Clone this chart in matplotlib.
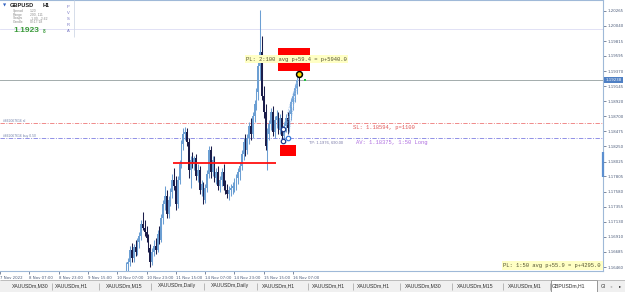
import numpy as np
import matplotlib.pyplot as plt
from matplotlib.patches import Rectangle

# hourly bars, index counted from 7 Nov 2022 00:00 (weekend hours skipped)
first_bar = 84
first_open = 1.1645
closes = [1.1651, 1.1653, 1.1671, 1.1659, 1.1676, 1.1668, 1.1683, 1.1692, 1.1710, 1.1704,
          1.1698, 1.1689, 1.1674, 1.1653, 1.1668, 1.1677, 1.1671, 1.1695, 1.1686, 1.1719,
          1.1740, 1.1751, 1.1725, 1.1746, 1.1757, 1.1775, 1.1766, 1.1740, 1.1775, 1.1799,
          1.1829, 1.1843, 1.1846, 1.1832, 1.1790, 1.1805, 1.1799, 1.1808, 1.1781, 1.1790,
          1.1760, 1.1769, 1.1746, 1.1763, 1.1784, 1.1820, 1.1787, 1.1805, 1.1778, 1.1787,
          1.1766, 1.1775, 1.1787, 1.1766, 1.1760, 1.1754, 1.1760, 1.1763, 1.1766, 1.1772,
          1.1778, 1.1787, 1.1796, 1.1814, 1.1832, 1.1820, 1.1838, 1.1855, 1.1843, 1.1870,
          1.1888, 1.1906, 1.1944, 1.1965, 1.1900, 1.1876, 1.1826, 1.1843, 1.1858, 1.1876,
          1.1846, 1.1864, 1.1870, 1.1849, 1.1867, 1.1841, 1.1855, 1.1867, 1.1852, 1.1873,
          1.1891, 1.1900, 1.1912, 1.1924, 1.1923]
highs = [1.1653, 1.1659, 1.1677, 1.1682, 1.1680, 1.1686, 1.1689, 1.1698, 1.1716, 1.1728,
         1.1716, 1.1707, 1.1695, 1.1680, 1.1674, 1.1686, 1.1689, 1.1701, 1.1707, 1.1725,
         1.1746, 1.1766, 1.1760, 1.1751, 1.1763, 1.1784, 1.1793, 1.1781, 1.1781, 1.1805,
         1.1835, 1.1852, 1.1854, 1.1852, 1.1838, 1.1811, 1.1817, 1.1811, 1.1814, 1.1799,
         1.1796, 1.1775, 1.1772, 1.1769, 1.1790, 1.1826, 1.1826, 1.1811, 1.1811, 1.1793,
         1.1796, 1.1781, 1.1793, 1.1799, 1.1775, 1.1769, 1.1766, 1.1769, 1.1772, 1.1778,
         1.1784, 1.1793, 1.1802, 1.1820, 1.1838, 1.1843, 1.1843, 1.1861, 1.1867, 1.1876,
         1.1894, 1.1912, 1.1953, 1.2028, 1.1989, 1.1915, 1.1888, 1.1852, 1.1864, 1.1882,
         1.1885, 1.1870, 1.1879, 1.1876, 1.1873, 1.1879, 1.1861, 1.1873, 1.1876, 1.1879,
         1.1897, 1.1906, 1.1918, 1.1930, 1.1933]
lows = [1.1634, 1.1639, 1.1648, 1.1653, 1.1653, 1.1662, 1.1664, 1.1674, 1.1686, 1.1701,
        1.1692, 1.1683, 1.1668, 1.1646, 1.1649, 1.1662, 1.1665, 1.1668, 1.1680, 1.1683,
        1.1710, 1.1731, 1.1719, 1.1719, 1.1737, 1.1748, 1.1760, 1.1731, 1.1734, 1.1769,
        1.1793, 1.1820, 1.1835, 1.1826, 1.1778, 1.1763, 1.1793, 1.1790, 1.1775, 1.1772,
        1.1754, 1.1751, 1.1740, 1.1741, 1.1757, 1.1778, 1.1778, 1.1781, 1.1772, 1.1769,
        1.1760, 1.1757, 1.1766, 1.1760, 1.1754, 1.1748, 1.1746, 1.1751, 1.1754, 1.1757,
        1.1760, 1.1769, 1.1775, 1.1790, 1.1805, 1.1811, 1.1814, 1.1829, 1.1835, 1.1838,
        1.1861, 1.1879, 1.1894, 1.1924, 1.1894, 1.1867, 1.1820, 1.1790, 1.1835, 1.1849,
        1.1841, 1.1838, 1.1852, 1.1843, 1.1843, 1.1835, 1.1832, 1.1846, 1.1843, 1.1846,
        1.1864, 1.1879, 1.1891, 1.1903, 1.1915]

tick_bars = [15, 31, 47, 63, 79, 95, 111, 127, 143, 159, 175]
tick_labels = ["7 Nov 2022", "8 Nov 07:00", "8 Nov 23:00", "9 Nov 15:00", "10 Nov 07:00",
               "10 Nov 23:00", "11 Nov 15:00", "14 Nov 07:00", "14 Nov 23:00",
               "15 Nov 15:00", "16 Nov 07:00"]
price_ticks = [1.20265, 1.20040, 1.19815, 1.19595, 1.19370, 1.19145, 1.18920, 1.18700,
               1.18475, 1.18250, 1.18025, 1.17805, 1.17580, 1.17355, 1.17130, 1.16910,
               1.16685, 1.16460]

bid = 1.19238
round_level = 1.2000
sl_level = 1.18594
entry_level = 1.18375
support_level = 1.1800
support_bars = (109.5, 165.5)

# red zones: bar from, bar to, price low, price high
zone_top = (166.7, 184.2, 1.19370, 1.19711)
zone_bottom = (167.8, 176.6, 1.18108, 1.18271)

entry_bars = [169.5, 169.5, 172.2]
entry_prices = [1.1851, 1.1833, 1.1837]
entry_colors = ["#1a3a8a", "#1a3a8a", "#3a7ad8"]
last_bar, last_mark = 178.2, 1.1933
green_bar, green_mark = 181.5, 1.1924

tab_names = ["XAUUSDm,M30", "XAUUSDm,H1", "XAUUSDm,M15", "XAUUSDm,Daily", "XAUUSDm,Daily",
             "XAUUSDm,H1", "XAUUSDm,H1", "XAUUSDm,H1", "XAUUSDm,M30", "XAUUSDm,M15",
             "XAUUSDm,M1", "GBPUSDm,H1"]
tab_centers = [30, 71, 124, 177, 230, 278, 328, 373, 423, 475, 525, 569]
tab_seps = [52, 99, 151, 204, 257, 308, 353, 400, 452, 503, 550]

px_per_bar = 1.832
frame = "#9fb9d8"
axis_text = "#4a5a78"

fig = plt.figure(figsize=(6.25, 2.92), dpi=100)
ax = fig.add_axes([0, 21 / 292, 603 / 625, 271 / 292])
ax.set_xlim(15, 15 + 603 / px_per_bar)
ax.set_ylim(1.16401, 1.20424)

# candles
opens = [first_open] + closes[:-1]
bars = np.arange(first_bar, first_bar + len(closes))
o = np.array(opens)
c = np.array(closes)
cols = np.where(c >= o, "#6c9fd3", "#1b1d4a")
ax.vlines(bars, lows, highs, colors=cols, linewidth=0.75, zorder=2)
body = np.maximum(np.abs(c - o), 0.00005)
ax.bar(bars, body, bottom=np.minimum(o, c), width=0.9, color=cols, linewidth=0, zorder=2)

# horizontal levels
ax.axhline(round_level, color="#dcdcf4", lw=0.6, zorder=1)
ax.axhline(bid, color="#a3acac", lw=0.7, zorder=1)
ax.axhline(sl_level, color="#f08a8a", lw=0.7, dashes=(4.5, 1.5, 1, 1.5), zorder=1)
ax.axhline(entry_level, color="#9090e6", lw=0.7, dashes=(4.5, 1.5, 1, 1.5), zorder=1)
ax.hlines(support_level, support_bars[0], support_bars[1], color="#ff1010", lw=1.3, zorder=3)

for z in (zone_top, zone_bottom):
    ax.add_patch(Rectangle((z[0], z[2]), z[1] - z[0], z[3] - z[2], fc="#ff0000", ec="none", zorder=3))

# trade markers
for b, p in zip(entry_bars, entry_prices):
    ax.plot([b, last_bar], [p, last_mark], color="#8fb8e8", lw=0.6, ls=(0, (1, 1)), zorder=3)
for b, p, col in zip(entry_bars, entry_prices, entry_colors):
    ax.plot(b, p, "o", ms=3.2, mfc="white", mec=col, mew=0.9, zorder=6)
ax.plot(last_bar, last_mark, "o", ms=4.2, mfc="#ffe000", mec="black", mew=1.1, zorder=6)
ax.plot(green_bar, green_mark, "s", ms=1.6, color="#20c040", mew=0, zorder=6)

# chart labels
mono = "Liberation Mono"
ax.text(149.3, 1.19548, "PL: 2:100 avg p+59.4 = p+5940.0", family=mono, fontsize=4,
        color="#555533", va="center", zorder=7,
        bbox=dict(boxstyle="square,pad=0.25", fc="#ffffc4", ec="none"))
ax.text(207.7, 1.18524, "SL: 1.18594, p=1100", family=mono, fontsize=4, color="#e05a5a",
        va="center", zorder=7)
ax.text(183.7, 1.1831, "TP: 1.1976, 690.00", family="Liberation Sans", fontsize=2.9,
        color="#7a7aa8", va="center", zorder=7)
ax.text(209.3, 1.1831, "AV: 1.18375, 1:50 Long", family=mono, fontsize=4, color="#b070e0",
        va="center", zorder=7)
ax.text(343.0, 1.16483, "PL: 1:50 avg p+55.9 = p+4295.0", family=mono, fontsize=4,
        color="#555533", va="center", ha="right", zorder=7,
        bbox=dict(boxstyle="square,pad=0.3", fc="#ffffc4", ec="none"))

# axes styling
for side in ("top", "bottom", "right"):
    ax.spines[side].set_color(frame)
    ax.spines[side].set_linewidth(0.8)
ax.spines["left"].set_visible(False)
ax.yaxis.tick_right()
ax.set_yticks(price_ticks)
ax.set_yticklabels(["%.5f" % p for p in price_ticks])
ax.tick_params(axis="y", labelsize=2.8, colors=axis_text, length=2, width=0.5, pad=1.5)
ax.set_xticks(tick_bars)
ax.set_xticklabels(tick_labels)
ax.tick_params(axis="x", labelsize=2.8, colors=axis_text, length=2, width=0.5, pad=1.5)
for lab in ax.get_xticklabels():
    lab.set_ha("left")
for t in ax.get_yticklabels() + ax.get_xticklabels():
    t.set_color(axis_text)

yx = ax.get_yaxis_transform()
ax.text(1.004, bid, "%.5f" % bid, transform=yx, fontsize=2.8, color="white", va="center",
        ha="left", clip_on=False, zorder=8,
        bbox=dict(boxstyle="square,pad=0.3", fc="#4f80c4", ec="none"))
ax.plot([1, 1], [1.1780, 1.1817], transform=yx, lw=1.6, color="#5b8fd0", clip_on=False,
        solid_capstyle="butt", zorder=8)

# window furniture in pixel coordinates
ui = fig.add_axes([0, 0, 1, 1])
ui.set_xlim(0, 625)
ui.set_ylim(292, 0)
ui.axis("off")
ui.patch.set_alpha(0)

sans = "Liberation Sans"
ui.text(3, 5.5, "\u25bc", fontsize=3, color="#3060c0", va="center")
ui.text(10, 5.5, "GBPUSD", family=sans, fontsize=4.1, weight="bold", color="#202020", va="center")
ui.text(43, 5.5, "H1", family=sans, fontsize=4.1, weight="bold", color="#202020", va="center")
info_keys = ["Spread", "Range", "Swaps", "Candle"]
info_vals = ["1.20", "200, 111", "-1.00, -2.62", "00:17:18"]
for k, (key, val) in enumerate(zip(info_keys, info_vals)):
    ui.text(13, 11 + 3.7 * k, key, family=sans, fontsize=2.4, color="#8a8a8a", va="center")
    ui.text(30, 11 + 3.7 * k, val, family=sans, fontsize=2.4, color="#8a8a8a", va="center")
ui.text(13, 30.5, "1.1923", family=sans, fontsize=6, weight="bold", color="#3a9a3a", va="center")
ui.text(43, 31.5, "8", family=sans, fontsize=3.4, weight="bold", color="#3a9a3a", va="center")
for k, ch in enumerate("PVSRA"):
    ui.text(68, 7 + 6 * k, ch, family=sans, fontsize=3, color="#7070c0", va="center", ha="center")
ui.vlines(74, 0, 37, color="#d0d8e6", lw=0.6)

ui.text(3, 121.5, "#662067616 sl", family=sans, fontsize=2.4, color="#7080a8", va="center")
ui.text(3, 135.5, "#662067616 buy 0.50", family=sans, fontsize=2.4, color="#7080a8", va="center")

ui.add_patch(Rectangle((0, 280), 625, 12, fc="#f0f0f0", ec="none"))
ui.hlines(280, 0, 625, color="#a8a8a8", lw=0.5)
ui.add_patch(Rectangle((551, 280), 46, 12, fc="white", ec="#707070", lw=0.5))
for s in tab_seps:
    ui.vlines(s, 282.5, 289.5, color="#a0a0a0", lw=0.5)
for name, cx in zip(tab_names, tab_centers):
    ui.text(cx, 286, name, family=sans, fontsize=3.7, color="#303030", va="center", ha="center")
ui.text(601, 286, "Gl", family=sans, fontsize=3.7, color="#303030", va="center", ha="left")
ui.text(611, 286, "\u25c2", fontsize=3.2, color="#b0b0b0", va="center", ha="center")
ui.text(620, 286, "\u25b8", fontsize=3.2, color="#202020", va="center", ha="center")

fig.savefig("out.png", dpi=100)
